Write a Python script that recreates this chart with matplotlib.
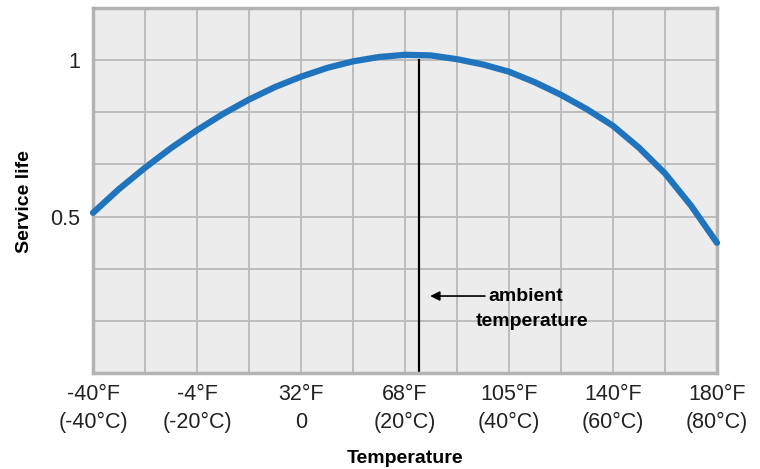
import numpy as np
import matplotlib.pyplot as plt

plt.rcParams['font.family'] = ['Liberation Sans', 'DejaVu Sans']

# temperature in degrees C, relative service life
temp_c = [-40, -35, -30, -25, -20, -15, -10, -5, 0, 5, 10, 15, 20, 25,
          30, 35, 40, 45, 50, 55, 60, 65, 70, 75, 80]
life = [0.512, 0.588, 0.656, 0.719, 0.776, 0.828, 0.874, 0.914, 0.947, 0.975,
        0.996, 1.010, 1.017, 1.015, 1.003, 0.986, 0.963, 0.929, 0.889, 0.843,
        0.790, 0.720, 0.638, 0.535, 0.416]

xtick_pos = [-40, -20, 0, 20, 40, 60, 80]
xtick_labels = ['-40°F\n(-40°C)', '-4°F\n(-20°C)', '32°F\n0', '68°F\n(20°C)',
                '105°F\n(40°C)', '140°F\n(60°C)', '180°F\n(80°C)']
ytick_pos = [0.5, 1]
ytick_labels = ['0.5', '1']

ambient_c = 22.7
ambient_top = 1.0
arrow_y = 0.246

fig = plt.figure(figsize=(7.6, 4.69), dpi=100)
ax = fig.add_axes([0.1224, 0.2047, 0.821, 0.7783])
ax.set_facecolor('#ececec')

ax.set_xlim(-40, 80)
ax.set_ylim(0, 7 / 6)

# grid every 10 C and every 1/6 of the life scale
for gx in np.arange(-30, 80, 10):
    ax.axvline(gx, color='#b9b9b9', linewidth=1.3, zorder=1)
for gy in np.arange(1, 7) / 6:
    ax.axhline(gy, color='#b9b9b9', linewidth=1.3, zorder=1)

ax.set_xticks(xtick_pos)
ax.set_xticklabels(xtick_labels, fontsize=15.5, color='#222222', linespacing=1.45)
ax.set_yticks(ytick_pos)
ax.set_yticklabels(ytick_labels, fontsize=15.5, color='#222222')
ax.tick_params(which='both', length=0, pad=8)
ax.tick_params(axis='y', pad=9)

for s in ax.spines.values():
    s.set_color('#b3b3b3')
    s.set_linewidth(2.5)

ax.plot(temp_c, life, color='#1f74bd', linewidth=4.5,
        solid_capstyle='round', solid_joinstyle='round', clip_on=False, zorder=3)
ax.plot([ambient_c, ambient_c], [0, ambient_top], color='black',
        linewidth=1.6, zorder=2)

ax.annotate('', xy=(ambient_c + 1.6, arrow_y), xytext=(ambient_c + 13.2, arrow_y),
            arrowprops=dict(arrowstyle='-|>', color='black', lw=1.2,
                            mutation_scale=14))
ax.text(ambient_c + 13.4, arrow_y, 'ambient', fontsize=14, fontweight='bold',
        ha='left', va='center')
ax.text(ambient_c + 21.8, arrow_y - 0.08, 'temperature', fontsize=14,
        fontweight='bold', ha='center', va='center')

ax.set_xlabel('Temperature', fontsize=14, fontweight='bold', labelpad=12)
ax.set_ylabel('Service life', fontsize=14, fontweight='bold')
ax.yaxis.set_label_coords(-0.096, 0.47)

fig.savefig('out.png', dpi=100)
